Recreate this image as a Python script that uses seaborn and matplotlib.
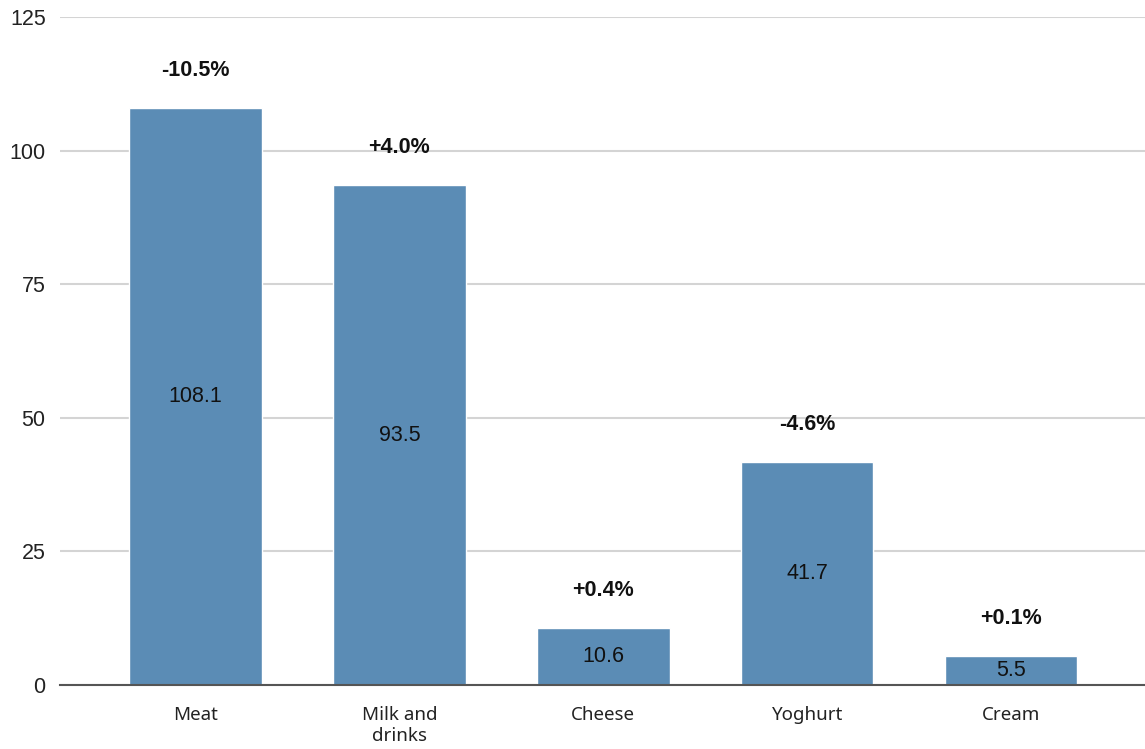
import pandas as pd
import matplotlib.pyplot as plt
import seaborn as sns

# Данные
categories = ['Meat', 'Milk and\ndrinks', 'Cheese', 'Yoghurt', 'Cream']
values = [108.1, 93.5, 10.6, 41.7, 5.5]
changes = ['-10.5%', '+4.0%', '+0.4%', '-4.6%', '+0.1%']
yticks = [0, 25, 50, 75, 100, 125]

df = pd.DataFrame({'category': categories, 'value': values, 'change': changes})

sns.set_theme(style='white')
plt.rcParams['font.family'] = ['Liberation Sans', 'DejaVu Sans']

fig = plt.figure(figsize=(11.45, 7.49), dpi=100)
ax = fig.add_axes([0.052, 0.0855, 0.948, 0.8915])

sns.barplot(data=df, x='category', y='value', color='#5b8cb5', saturation=1,
            width=0.65, ax=ax, zorder=3)

# Подписи внутри столбцов и изменения над ними
for i, row in df.iterrows():
    ax.text(i, row['value'] / 2, f"{row['value']:.1f}", ha='center', va='center',
            fontsize=15.5, color='#111111', zorder=4)
    ax.annotate(row['change'], (i, row['value']), xytext=(0, 27), textcoords='offset points',
                ha='center', va='center', fontsize=15.5, fontweight='bold', color='#111111')

ax.set_ylim(0, 125)
ax.set_xlim(-0.667, 4.657)
ax.set_yticks(yticks)
ax.set_yticklabels([str(t) for t in yticks], fontsize=15.5, color='#222222')
ax.tick_params(axis='x', labelsize=13.5, colors='#222222', pad=15, length=0)
ax.tick_params(axis='y', length=0, pad=10)
for lbl in ax.get_xticklabels():
    lbl.set_family(['Noto Sans', 'DejaVu Sans'])
ax.set_xlabel('')
ax.set_ylabel('')

ax.grid(axis='y', color='#d4d4d4', linewidth=1.5, zorder=0)
for s in ['left', 'right', 'top']:
    ax.spines[s].set_visible(False)
ax.spines['bottom'].set_color('#555555')
ax.spines['bottom'].set_linewidth(1.5)
ax.spines['bottom'].set_zorder(5)

fig.savefig('out.png', dpi=100)
